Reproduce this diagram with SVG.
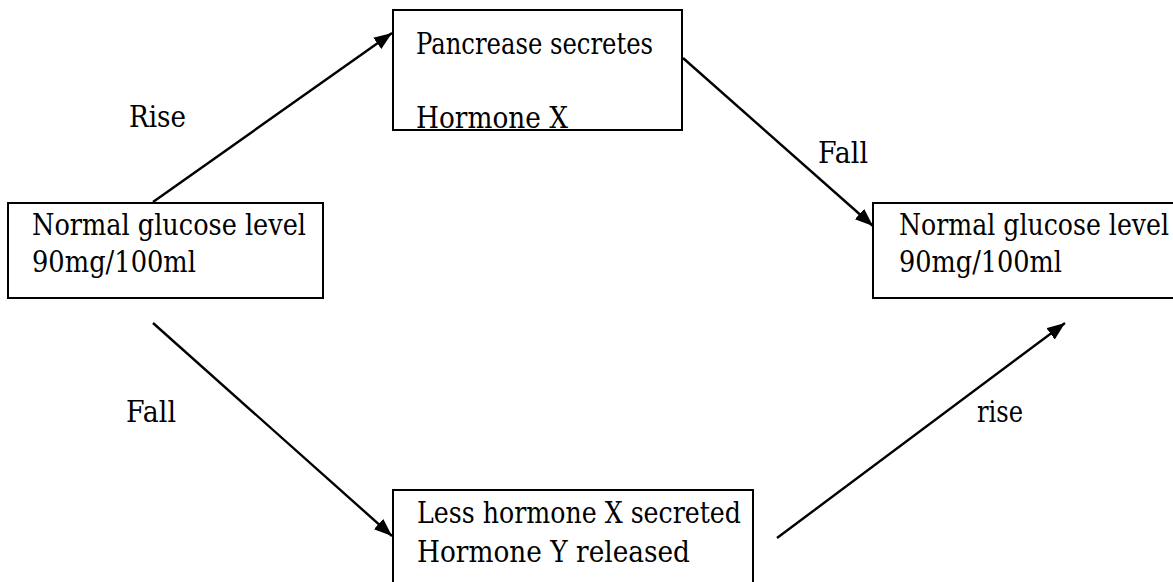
<svg xmlns="http://www.w3.org/2000/svg" width="1173" height="582" viewBox="0 0 1173 582">
  <style>
    .box { fill: #fff; stroke: #000; stroke-width: 2; }
    .edge { fill: none; stroke: #000; stroke-width: 2.4; }
    text { font-family: "DejaVu Serif", "Liberation Serif", serif; font-size: 29px; fill: #000; }
  </style>
  <defs>
    <marker id="arrow" markerUnits="userSpaceOnUse" markerWidth="20" markerHeight="16" refX="18" refY="7" orient="auto">
      <path d="M0,0 L18,7 L0,14 Z" fill="#000"/>
    </marker>
  </defs>
  <rect width="1173" height="582" fill="#fff"/>

  <g id="connectors">
    <line class="edge" x1="153" y1="202" x2="392" y2="33" marker-end="url(#arrow)"/>
    <line class="edge" x1="683" y1="58" x2="873" y2="226" marker-end="url(#arrow)"/>
    <line class="edge" x1="153" y1="323" x2="392" y2="536" marker-end="url(#arrow)"/>
    <line class="edge" x1="777" y1="538" x2="1065" y2="323" marker-end="url(#arrow)"/>
  </g>

  <g id="labels">
    <text x="129" y="127" textLength="57" lengthAdjust="spacingAndGlyphs">Rise</text>
    <text x="818" y="163" textLength="50" lengthAdjust="spacingAndGlyphs">Fall</text>
    <text x="126" y="422" textLength="50" lengthAdjust="spacingAndGlyphs">Fall</text>
    <text x="977" y="422" textLength="46" lengthAdjust="spacingAndGlyphs">rise</text>
  </g>

  <g id="node-left">
    <rect class="box" x="8" y="203" width="315" height="95"/>
    <text x="32" y="235" textLength="274" lengthAdjust="spacingAndGlyphs">Normal glucose level</text>
    <text x="32" y="272" textLength="164" lengthAdjust="spacingAndGlyphs">90mg/100ml</text>
  </g>

  <g id="node-top">
    <rect class="box" x="393" y="10" width="289" height="120"/>
    <text x="416" y="54" textLength="237" lengthAdjust="spacingAndGlyphs">Pancrease secretes</text>
    <text x="416" y="128" textLength="152" lengthAdjust="spacingAndGlyphs">Hormone X</text>
  </g>

  <g id="node-right">
    <rect class="box" x="873" y="203" width="310" height="95"/>
    <text x="899" y="235" textLength="270" lengthAdjust="spacingAndGlyphs">Normal glucose level</text>
    <text x="899" y="272" textLength="163" lengthAdjust="spacingAndGlyphs">90mg/100ml</text>
  </g>

  <g id="node-bottom">
    <rect class="box" x="393" y="490" width="360" height="100"/>
    <text x="417" y="523" textLength="324" lengthAdjust="spacingAndGlyphs">Less hormone X secreted</text>
    <text x="417" y="562" textLength="273" lengthAdjust="spacingAndGlyphs">Hormone Y released</text>
  </g>
</svg>
